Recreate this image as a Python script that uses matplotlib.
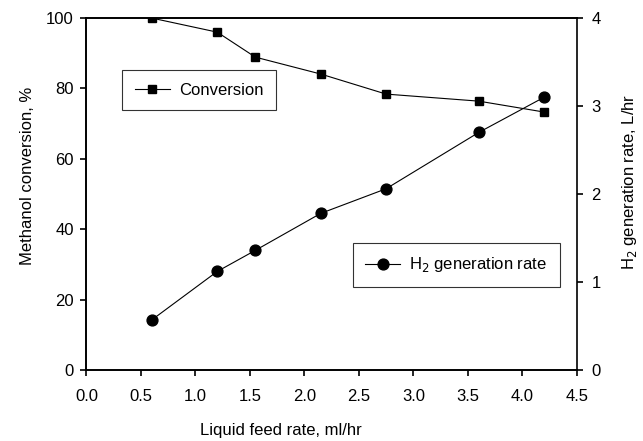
import matplotlib.pyplot as plt
import numpy as np

plt.rcParams['font.family'] = ['Liberation Sans', 'DejaVu Sans']

# Liquid feed rate (ml/hr)
feed_rate = [0.6, 1.2, 1.55, 2.15, 2.75, 3.6, 4.2]
# Methanol conversion (%)
conversion = [100.0, 96.0, 88.9, 84.1, 78.4, 76.4, 73.3]
# H2 generation rate (L/hr)
h2_rate = [0.57, 1.12, 1.36, 1.78, 2.06, 2.70, 3.10]

x_ticks = np.arange(0, 4.51, 0.5)
y1_ticks = [0, 20, 40, 60, 80, 100]
y2_ticks = [0, 1, 2, 3, 4]

fig = plt.figure(figsize=(6.43, 4.41), dpi=100)
ax = fig.add_axes([0.1345, 0.161, 0.7625, 0.798])
ax2 = ax.twinx()

l1, = ax.plot(feed_rate, conversion, color='black', lw=0.8, marker='s', ms=6, label='Conversion')
l2, = ax2.plot(feed_rate, h2_rate, color='black', lw=0.8, marker='o', ms=7.8, label='H$_2$ generation rate')

ax.set_xlim(0, 4.5)
ax.set_ylim(0, 100)
ax2.set_ylim(0, 4)
ax.set_xticks(x_ticks, [f"{v:.1f}" for v in x_ticks], fontsize=12)
ax.set_yticks(y1_ticks, [str(v) for v in y1_ticks], fontsize=12)
ax2.set_yticks(y2_ticks, [str(v) for v in y2_ticks], fontsize=12)

for a in (ax, ax2):
    for s in a.spines.values():
        s.set_linewidth(1.2)
    a.tick_params(direction='out', length=4.5, width=1.2)
ax.spines['right'].set_visible(False)
ax.tick_params(axis='x', pad=9)
ax.tick_params(axis='y', pad=4.5)
ax2.tick_params(axis='y', pad=6)

ax.set_xlabel('Liquid feed rate, ml/hr', fontsize=12)
ax.set_ylabel('Methanol conversion, %', fontsize=12)
ax2.set_ylabel('H$_2$ generation rate, L/hr', fontsize=12)
ax.xaxis.set_label_coords(0.396, -0.152)
ax.yaxis.set_label_coords(-0.104, 0.551)
ax2.yaxis.set_label_coords(1.088, 0.534)

# both legends live on the top axes so they are drawn above the lines
leg_kw = dict(loc='upper left', borderaxespad=0, fancybox=False, edgecolor='black', fontsize=12,
              handlelength=2.1, handletextpad=0.55, borderpad=0.75)
leg1 = ax2.legend(handles=[l1], bbox_to_anchor=(0.073, 0.852), **leg_kw)
leg1.get_frame().set_linewidth(0.8)
ax2.add_artist(leg1)
leg2 = ax2.legend(handles=[l2], bbox_to_anchor=(0.543, 0.361), **leg_kw)
leg2.get_frame().set_linewidth(0.8)

fig.savefig('out.png', dpi=100)
